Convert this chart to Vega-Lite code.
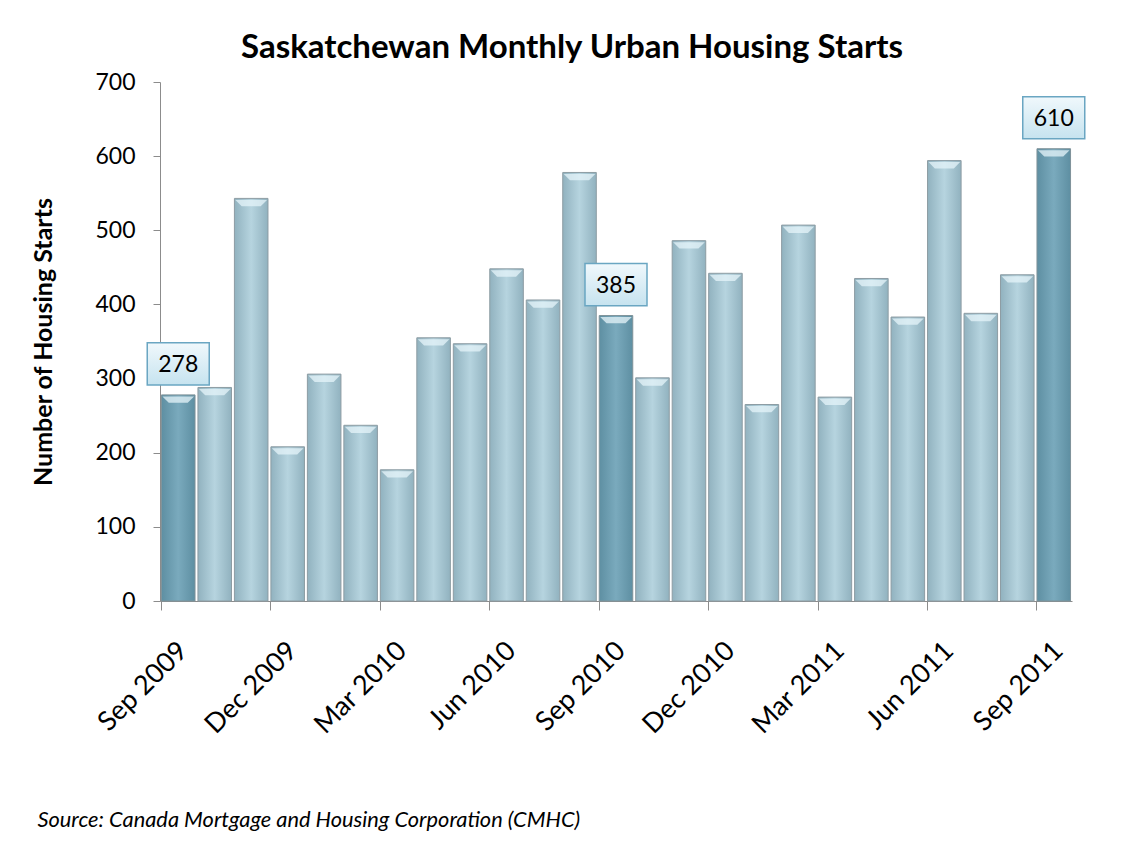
{
  "$schema": "https://vega.github.io/schema/vega-lite/v6.json",
  "width": 912,
  "height": 519,
  "autosize": {"type": "none"},
  "padding": {"left": 160, "top": 82, "right": 56, "bottom": 242},
  "background": "white",
  "title": {
    "text": "Saskatchewan Monthly Urban Housing Starts",
    "font": "Lato",
    "fontSize": 33,
    "fontWeight": "bold",
    "color": "black",
    "anchor": "middle",
    "frame": "group",
    "dx": -44,
    "offset": 6
  },
  "data": {
    "values": [
      {"month": "Sep 2009", "value": 278, "highlight": 1},
      {"month": "Oct 2009", "value": 288, "highlight": 0},
      {"month": "Nov 2009", "value": 543, "highlight": 0},
      {"month": "Dec 2009", "value": 208, "highlight": 0},
      {"month": "Jan 2010", "value": 306, "highlight": 0},
      {"month": "Feb 2010", "value": 237, "highlight": 0},
      {"month": "Mar 2010", "value": 177, "highlight": 0},
      {"month": "Apr 2010", "value": 355, "highlight": 0},
      {"month": "May 2010", "value": 347, "highlight": 0},
      {"month": "Jun 2010", "value": 448, "highlight": 0},
      {"month": "Jul 2010", "value": 406, "highlight": 0},
      {"month": "Aug 2010", "value": 578, "highlight": 0},
      {"month": "Sep 2010", "value": 385, "highlight": 1},
      {"month": "Oct 2010", "value": 301, "highlight": 0},
      {"month": "Nov 2010", "value": 486, "highlight": 0},
      {"month": "Dec 2010", "value": 442, "highlight": 0},
      {"month": "Jan 2011", "value": 265, "highlight": 0},
      {"month": "Feb 2011", "value": 507, "highlight": 0},
      {"month": "Mar 2011", "value": 275, "highlight": 0},
      {"month": "Apr 2011", "value": 435, "highlight": 0},
      {"month": "May 2011", "value": 383, "highlight": 0},
      {"month": "Jun 2011", "value": 594, "highlight": 0},
      {"month": "Jul 2011", "value": 388, "highlight": 0},
      {"month": "Aug 2011", "value": 440, "highlight": 0},
      {"month": "Sep 2011", "value": 610, "highlight": 1}
    ]
  },
  "encoding": {
    "x": {
      "field": "month",
      "type": "ordinal",
      "sort": ["Sep 2009","Oct 2009","Nov 2009","Dec 2009","Jan 2010","Feb 2010","Mar 2010","Apr 2010","May 2010","Jun 2010","Jul 2010","Aug 2010","Sep 2010","Oct 2010","Nov 2010","Dec 2010","Jan 2011","Feb 2011","Mar 2011","Apr 2011","May 2011","Jun 2011","Jul 2011","Aug 2011","Sep 2011"],
      "scale": {"paddingInner": 0.08, "paddingOuter": 0.04},
      "axis": {
        "values": ["Sep 2009","Dec 2009","Mar 2010","Jun 2010","Sep 2010","Dec 2010","Mar 2011","Jun 2011","Sep 2011"],
        "bandPosition": 0,
        "labelOffset": -4,
        "labelAngle": -45,
        "labelAlign": "right",
        "labelBaseline": "top",
        "labelFont": "Lato",
        "labelFontSize": 27,
        "labelColor": "black",
        "labelPadding": 27,
        "tickSize": 9,
        "tickColor": "#8c8c8c",
        "domainColor": "#8c8c8c",
        "title": "Source: Canada Mortgage and Housing Corporation (CMHC)",
        "titleFont": "Lato",
        "titleFontSize": 21.8,
        "titleFontStyle": "italic",
        "titleFontWeight": "normal",
        "titleColor": "black",
        "titleAnchor": "start",
        "titleAlign": "left",
        "titleBaseline": "alphabetic",
        "titleX": -123,
        "titleY": 225
      }
    },
    "y": {
      "field": "value",
      "type": "quantitative",
      "scale": {"domain": [0, 700], "nice": false},
      "axis": {
        "values": [0, 100, 200, 300, 400, 500, 600, 700],
        "grid": false,
        "tickSize": 7,
        "tickColor": "#8c8c8c",
        "domainColor": "#8c8c8c",
        "labelFont": "Lato",
        "labelFontSize": 23,
        "labelColor": "black",
        "labelPadding": 18,
        "title": "Number of Housing Starts",
        "titleFont": "Lato",
        "titleFontSize": 25,
        "titleFontWeight": "bold",
        "titleColor": "black",
        "titlePadding": 38
      }
    }
  },
  "layer": [
    {
      "transform": [{"filter": "datum.highlight == 0"}],
      "mark": {
        "type": "bar",
        "fill": {"gradient": "linear", "x1": 0, "y1": 0, "x2": 1, "y2": 0, "stops": [
          {"offset": 0, "color": "#91b2bf"},
          {"offset": 0.5, "color": "#b6d4df"},
          {"offset": 1, "color": "#91b2bf"}
        ]},
        "stroke": "#8d9ca3",
        "strokeWidth": 1
      }
    },
    {
      "transform": [{"filter": "datum.highlight == 1"}],
      "mark": {
        "type": "bar",
        "fill": {"gradient": "linear", "x1": 0, "y1": 0, "x2": 1, "y2": 0, "stops": [
          {"offset": 0, "color": "#5e8fa2"},
          {"offset": 0.5, "color": "#7aaabd"},
          {"offset": 1, "color": "#5e8fa2"}
        ]},
        "stroke": "#7f9299",
        "strokeWidth": 1
      }
    },
    {
      "mark": {
        "type": "point",
        "shape": "M-1,0H1L0.6,0.4H-0.6Z",
        "size": 1000,
        "filled": true,
        "opacity": 0.75,
        "color": "#e6f4f9",
        "strokeWidth": 0,
        "yOffset": 1.5
      }
    },
    {
      "transform": [{"filter": "datum.highlight == 1"}],
      "mark": {
        "type": "point",
        "shape": "M-1,-0.68H1V0.68H-1Z",
        "size": 3844,
        "filled": true,
        "opacity": 1,
        "fill": {"gradient": "linear", "x1": 0, "y1": 0, "x2": 0, "y2": 1, "stops": [
          {"offset": 0, "color": "#f0f8fc"},
          {"offset": 1, "color": "#c6e3ef"}
        ]},
        "stroke": "#6aa6c2",
        "strokeWidth": 1.5,
        "yOffset": -31
      }
    },
    {
      "transform": [{"filter": "datum.highlight == 1"}],
      "mark": {
        "type": "text",
        "font": "Lato",
        "fontSize": 23,
        "color": "black",
        "baseline": "middle",
        "align": "center",
        "yOffset": -30
      },
      "encoding": {"text": {"field": "value", "type": "quantitative"}}
    }
  ],
  "config": {"view": {"stroke": null}}
}
